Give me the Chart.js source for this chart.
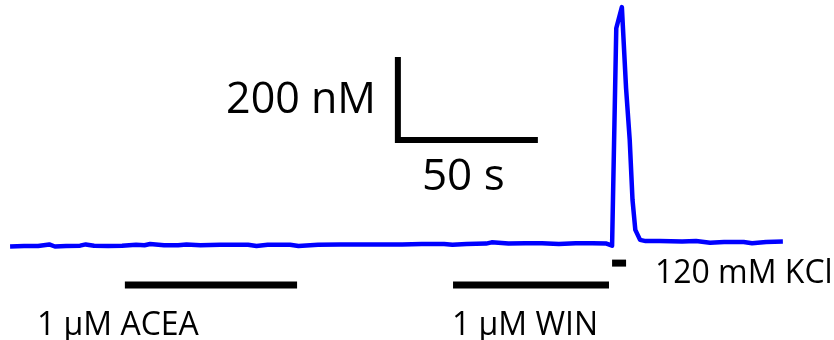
<!DOCTYPE html>
<html lang="en">
<head>
    <meta charset="UTF-8">
    <title>Calcium trace</title>
    <script src="https://cdn.jsdelivr.net/npm/chart.js"></script>
    <style>
        body { margin: 0; background: #fff; }
        #box { width: 834px; height: 340px; }
    </style>
</head>
<body>
    <div id="box"><canvas id="trace"></canvas></div>

    <script>
        // time (s) and [Ca2+] (nM)
        const tempi = [0, 5, 10, 14, 16, 20, 25, 27, 30, 35, 40, 45, 48, 50, 55, 60, 63, 68, 75, 80,
            85, 88, 92, 100, 103, 110, 118, 125, 132, 140, 147, 155, 158, 163, 170, 172, 178, 184, 190, 196,
            202, 208, 213, 215, 216.5, 218.5, 220, 221.3, 222.3, 223.3, 225, 227, 232, 240, 245, 250, 255, 262, 265, 270, 276];
        const calcio = [99, 100, 100, 104, 99, 100, 101, 104, 101, 100, 101, 103, 102, 105, 102, 102, 104, 102, 103, 103,
            103, 100, 103, 103, 100, 103, 104, 104, 104, 104, 105, 105, 103, 105, 106, 109, 106, 107, 107, 105,
            107, 107, 106, 101, 625, 676, 480, 356, 211, 139, 115, 112, 112, 111, 112, 108, 110, 110, 107, 110, 111];

        // scale bar: 200 nM by 50 s
        const barraScalaX = [138.5, 138.5, 188.5];
        const barraScalaY = [555.7, 355.7, 355.7];

        // drug application bars [start, end, level]
        const applicazioni = [
            [41.0, 102.5, 6],
            [158.2, 213.9, 6],
            [215.0, 220.0, 59]
        ];

        // text labels [text, x, y, align, size]
        const etichette = [
            ['200 nM', 130.7, 420.7, 'right', 43],
            ['50 s', 147.1, 235.2, 'left', 44],
            ['120 mM KCl', 230.3, 11.1, 'left', 32],
            ['1 µM ACEA', 9.6, -114.2, 'left', 32],
            ['1 µM WIN', 157.8, -114.2, 'left', 32]
        ];

        const datasets = [{
            data: tempi.map((t, i) => ({ x: t, y: calcio[i] })),
            borderColor: '#0000ff',
            borderWidth: 4.5,
            borderJoinStyle: 'round',
            pointRadius: 0,
            tension: 0,
            fill: false
        }, {
            data: barraScalaX.map((x, i) => ({ x: x, y: barraScalaY[i] })),
            borderColor: '#000',
            borderWidth: 6,
            borderJoinStyle: 'miter',
            borderCapStyle: 'butt',
            pointRadius: 0
        }];

        applicazioni.forEach(a => {
            datasets.push({
                data: [{ x: a[0], y: a[2] }, { x: a[1], y: a[2] }],
                borderColor: '#000',
                borderWidth: 7,
                borderCapStyle: 'butt',
                pointRadius: 0
            });
        });

        const scritte = {
            id: 'scritte',
            afterDatasetsDraw(chart) {
                const c = chart.ctx;
                const sx = chart.scales.x, sy = chart.scales.y;
                c.save();
                c.fillStyle = '#000';
                c.textBaseline = 'alphabetic';
                etichette.forEach(e => {
                    c.font = e[4] + 'px "Open Sans"';
                    c.textAlign = e[3];
                    c.fillText(e[0], sx.getPixelForValue(e[1]), sy.getPixelForValue(e[2]));
                });
                c.restore();
            }
        };

        new Chart(document.getElementById('trace'), {
            type: 'line',
            data: { datasets: datasets },
            options: {
                responsive: true,
                maintainAspectRatio: false,
                animation: false,
                layout: { padding: 0 },
                plugins: { legend: { display: false }, tooltip: { enabled: false } },
                scales: {
                    x: { type: 'linear', display: false, min: -3.6, max: 294.26 },
                    y: { type: 'linear', display: false, min: -126.3, max: 693 }
                }
            },
            plugins: [scritte]
        });
    </script>
</body>
</html>
